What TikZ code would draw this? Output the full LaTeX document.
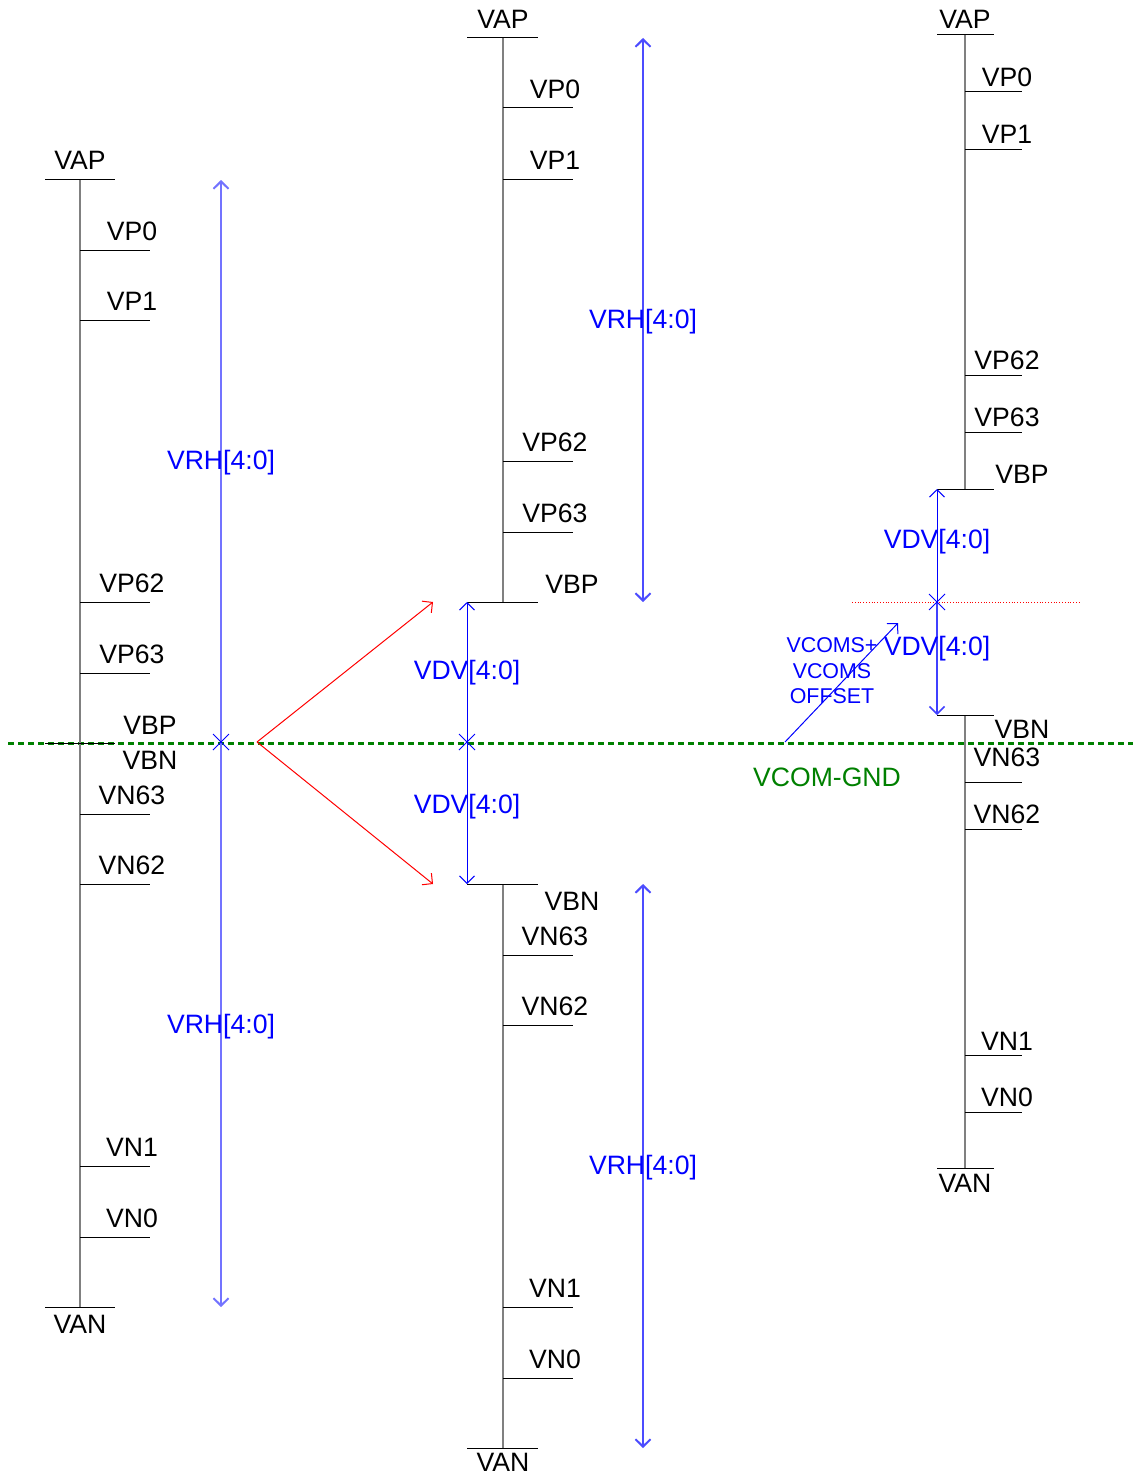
\documentclass[tikz,border=0pt]{standalone}
\usepackage{fontspec}
\setmainfont{Liberation Sans}
\usetikzlibrary{arrows.meta}
\begin{document}
\begin{tikzpicture}[x=0.5pt,y=-0.5pt,
  every node/.style={font=\fontsize{13.3}{15}\selectfont,inner sep=0pt,text height=9.5pt,text depth=0pt},
  rail/.style={draw=black!50,line width=1pt},
  bar/.style={draw=black,line width=0.5pt},
  barb/.tip={Straight Barb[length=3.7pt,width=7.5pt]},
  dimln/.style={line width=0.5pt,draw=blue},
  blbl/.style={text=blue},
  small/.style={font=\fontsize{10.7}{12}\selectfont,text height=7.7pt,text=blue}]
\useasboundingbox (0,0) rectangle (1133,1477);
% VCOM-GND reference line
\draw[green!50!black,line width=1.5pt,dash pattern=on 3pt off 2pt] (8,743) coordinate (gl) -- (1133,743) coordinate (gr);
\node[text=green!50!black] (vcomgnd) at (827,777) {VCOM-GND};
% left ladder
\draw[rail] (80,179) -- (80,1307);
\draw[bar] (45,179) -- (115,179); \node (lvap) at (80,160) {VAP};
\draw[bar] (45,743) -- (115,743);
\draw[bar] (45,1307) -- (115,1307); \node (lvan) at (80,1324) {VAN};
\foreach \n/\y in {VP0/250,VP1/320,VP62/602,VP63/673,VN63/814,VN62/884,VN1/1166,VN0/1237} {\draw[bar] (80,\y) -- ++(70,0); \node (l\n) at (132,\y-19) {\n};}
\node (lvbp) at (150,725) {VBP}; \node (lvbn) at (150,760) {VBN};
\coordinate (ltop) at (221,180); \coordinate (lmid) at (221,742); \coordinate (lbot) at (221,1307);
\draw[dimln,draw=blue!55,line width=1pt,barb-barb] (ltop) -- (lbot);
\node[blbl] (lvrhp) at (221,460) {VRH[4:0]}; \node[blbl] (lvrhn) at (221,1024) {VRH[4:0]};
% split arrows
\coordinate (rsrc) at (257,742); \coordinate (rup) at (433,602); \coordinate (rdn) at (433,884);
\draw[red,line width=0.5pt,-barb] (rsrc) -- (rup);
\draw[red,line width=0.5pt,-barb] (rsrc) -- (rdn);
% middle ladder
\draw[rail] (503,38) -- (503,602); \draw[rail] (503,884) -- (503,1448);
\foreach \y in {38,602,884,1448} {\draw[bar] (467,\y) -- (538,\y);}
\node (mvap) at (503,19) {VAP}; \node (mvan) at (503,1462) {VAN};
\foreach \n/\y in {VP0/108,VP1/179,VP62/461,VP63/532,VN63/955,VN62/1025,VN1/1307,VN0/1378} {\draw[bar] (503,\y) -- ++(70,0); \node (m\n) at (555,\y-19) {\n};}
\node (mvbp) at (572,584) {VBP}; \node (mvbn) at (572,901) {VBN};
\coordinate (mbp) at (467,602); \coordinate (mmid) at (467,742); \coordinate (mbn) at (467,884);
\draw[dimln,barb-barb] (mbp) -- (mbn);
\node[blbl] (mvdvp) at (467,670) {VDV[4:0]}; \node[blbl] (mvdvn) at (467,804) {VDV[4:0]};
\draw[dimln,draw=blue!70,line width=1pt,barb-barb] (643,38) coordinate (mt1) -- (643,602) coordinate (mb1);
\draw[dimln,draw=blue!70,line width=1pt,barb-barb] (643,884) coordinate (mt2) -- (643,1448) coordinate (mb2);
\node[blbl] (mvrhp) at (643,319) {VRH[4:0]}; \node[blbl] (mvrhn) at (643,1165) {VRH[4:0]};
% right ladder
\draw[rail] (965,35) -- (965,489); \draw[rail] (965,715) -- (965,1168);
\foreach \y in {35,489,715,1168} {\draw[bar] (937,\y) -- (994,\y);}
\node (rvap) at (965,19) {VAP}; \node (rvan) at (965,1183) {VAN};
\foreach \n/\y/\ly in {VP0/92/77,VP1/149/134,VP62/375/360,VP63/432/417,VN63/782/757,VN62/829/814,VN1/1055/1041,VN0/1112/1097} {\draw[bar] (965,\y) -- ++(57,0); \node (r\n) at (1007,\ly) {\n};}
\node (rvbp) at (1022,474) {VBP}; \node (rvbn) at (1022,729) {VBN};
\draw[red,line width=0.4pt,densely dotted] (852,602) coordinate (dl) -- (1080,602) coordinate (dr);
\coordinate (rbp) at (937,489); \coordinate (rmid) at (937,602); \coordinate (rbn) at (937,715);
\draw[dimln,barb-] (rbp) -- (rmid);
\draw[dimln,draw=blue!75,line width=0.8pt,-barb] (rmid) -- (rbn);
\node[blbl] (rvdvp) at (937,539) {VDV[4:0]}; \node[blbl] (rvdvn) at (937,646) {VDV[4:0]};
\coordinate (vcs) at (785,742); \coordinate (vce) at (898,623);
\draw[dimln,-barb] (vcs) -- (vce);
\node[small] (vc1) at (832,645) {VCOMS+};
\node[small] (vc2) at (832,671) {VCOMS};
\node[small] (vc3) at (832,696) {OFFSET};
% cross marks
\foreach \c in {lmid,mmid,rmid} {\draw[blue,line width=0.5pt] (\c) ++(-8,-8) -- ++(16,16) ++(0,-16) -- ++(-16,16);}
\end{tikzpicture}
\end{document}
